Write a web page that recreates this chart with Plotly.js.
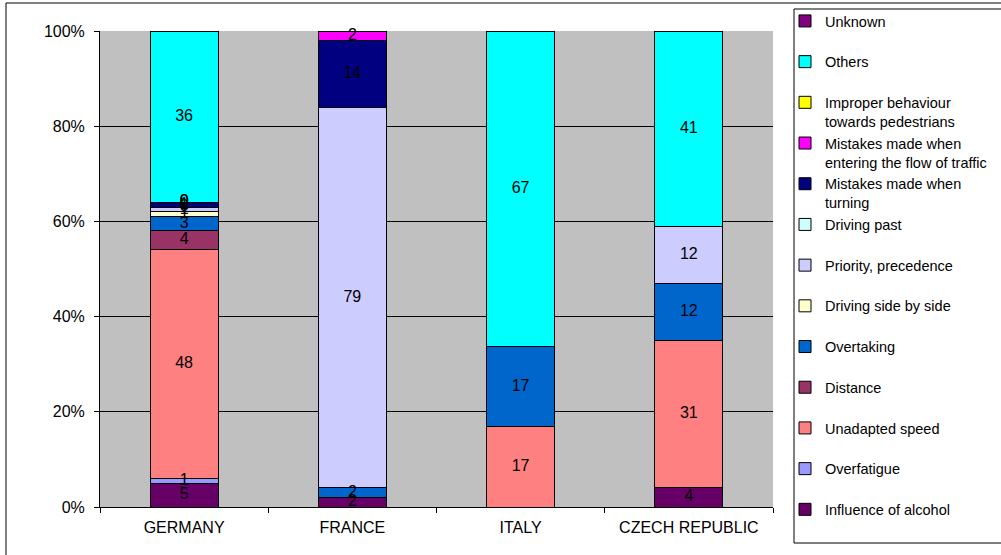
<!DOCTYPE html>
<html>
<head>
<meta charset="utf-8">
<script src="https://cdn.plot.ly/plotly-3.0.1.min.js"></script>
<style>html,body{margin:0;padding:0;background:#fff;overflow:hidden;}#chart{width:1001px;height:555px;}</style>
</head>
<body>
<div id="chart"></div>
<script>
// ---- data ----
var categories = ['GERMANY', 'FRANCE', 'ITALY', 'CZECH REPUBLIC'];
var alcohol     = [5, 2, null, 4];
var overfatigue = [1, null, null, null];
var speed       = [48, null, 17, 31];
var distance    = [4, null, null, null];
var overtaking  = [3, 2, 17, 12];
var sideBySide  = [1, null, null, null];
var priority    = [1, 79, null, 12];
var drivingPast = [0, null, null, null];
var turning     = [1, 14, null, null];
var entering    = [0, 2, null, null];
var improper    = [0, null, null, null];
var others      = [36, null, 67, 41];
var unknown     = [null, null, null, null];
var yTickVals   = [0, 20, 40, 60, 80, 100];
var yTickText   = ['0%', '20%', '40%', '60%', '80%', '100%'];

var seriesNames = [
  'Influence of alcohol<br> ', 'Overfatigue<br> ', 'Unadapted speed<br> ', 'Distance<br> ',
  'Overtaking<br> ', 'Driving side by side<br> ', 'Priority, precedence<br> ', 'Driving past<br> ',
  'Mistakes made when<br>turning', 'Mistakes made when<br>entering the flow of traffic',
  'Improper behaviour<br>towards pedestrians', 'Others<br> ', 'Unknown<br> '
];
var seriesValues = [alcohol, overfatigue, speed, distance, overtaking, sideBySide, priority,
  drivingPast, turning, entering, improper, others, unknown];
var seriesColors = ['#660066', '#9999FF', '#FF8080', '#993366', '#0066CC', '#FFFFCC', '#CCCCFF',
  '#CCFFFF', '#000080', '#FF00FF', '#FFFF00', '#00FFFF', '#800080'];

var FONT = 'Liberation Sans, Arial, sans-serif';
var traces = [];
for (var i = 0; i < seriesValues.length; i++) {
  traces.push({
    type: 'bar', x: categories, y: seriesValues[i], name: seriesNames[i],
    legendgroup: 'g' + i, legendrank: 100 - i,
    marker: {color: seriesColors[i], line: {color: '#000', width: 1}},
    hoverinfo: 'skip'
  });
}

// data labels, positioned through the y scale from normalized cumulative sums
var lx = [], ly = [], lt = [];
for (var c = 0; c < categories.length; c++) {
  var total = 0;
  for (var s = 0; s < seriesValues.length; s++) total += (seriesValues[s][c] || 0);
  var cum = 0;
  for (var s2 = 0; s2 < seriesValues.length; s2++) {
    var v = seriesValues[s2][c];
    if (v === null || v === undefined) continue;
    lx.push(categories[c]);
    ly.push((cum + v / 2) / total * 100);
    lt.push(String(v));
    cum += v;
  }
}
traces.push({
  type: 'scatter', mode: 'text', x: lx, y: ly, text: lt, showlegend: false,
  textfont: {family: FONT, size: 16, color: '#000'},
  cliponaxis: false, hoverinfo: 'skip'
});

var L = 100, R = 773, T = 31, B = 507;
var W = R - L, H = B - T;
function px(x) { return (x - L) / W; }
function py(y) { return (B - y) / H; }

var layout = {
  width: 1001, height: 555,
  margin: {l: L, r: 1001 - R, t: T, b: 555 - B, autoexpand: false},
  barmode: 'stack', barnorm: 'percent', bargap: 0.595,
  paper_bgcolor: '#fff', plot_bgcolor: '#C0C0C0',
  font: {family: FONT, size: 16, color: '#000'},
  showlegend: true,
  legend: {
    x: px(785), xanchor: 'left', y: py(5), yanchor: 'top',
    traceorder: 'grouped', tracegroupgap: 0, valign: 'top', maxheight: 600,
    bgcolor: 'rgba(0,0,0,0)', borderwidth: 0,
    font: {family: FONT, size: 14.5, color: '#000'}
  },
  xaxis: {
    type: 'category', tickson: 'boundaries', ticks: 'outside', ticklen: 5, tickcolor: '#000',
    showline: true, linecolor: '#000', linewidth: 1, showgrid: false, ticklabelstandoff: 6,
    tickfont: {family: FONT, size: 16}
  },
  yaxis: {
    range: [0, 100], tickmode: 'array', tickvals: yTickVals, ticktext: yTickText,
    ticks: 'outside', ticklen: 5, tickcolor: '#000', showline: true, linecolor: '#000',
    gridcolor: '#000', gridwidth: 1, zeroline: false, ticklabelstandoff: 6,
    tickfont: {family: FONT, size: 16}
  },
  shapes: [
    {type: 'rect', xref: 'paper', yref: 'paper', x0: px(6), x1: px(1020), y0: py(570), y1: py(3),
     line: {color: '#000', width: 1}, fillcolor: 'rgba(0,0,0,0)', layer: 'below'},
    {type: 'rect', xref: 'paper', yref: 'paper', x0: px(794), x1: px(1020), y0: py(543), y1: py(9),
     line: {color: '#000', width: 1}, fillcolor: '#fff', layer: 'above'}
  ]
};

Plotly.newPlot('chart', traces, layout, {displayModeBar: false, staticPlot: true});
</script>
</body>
</html>
